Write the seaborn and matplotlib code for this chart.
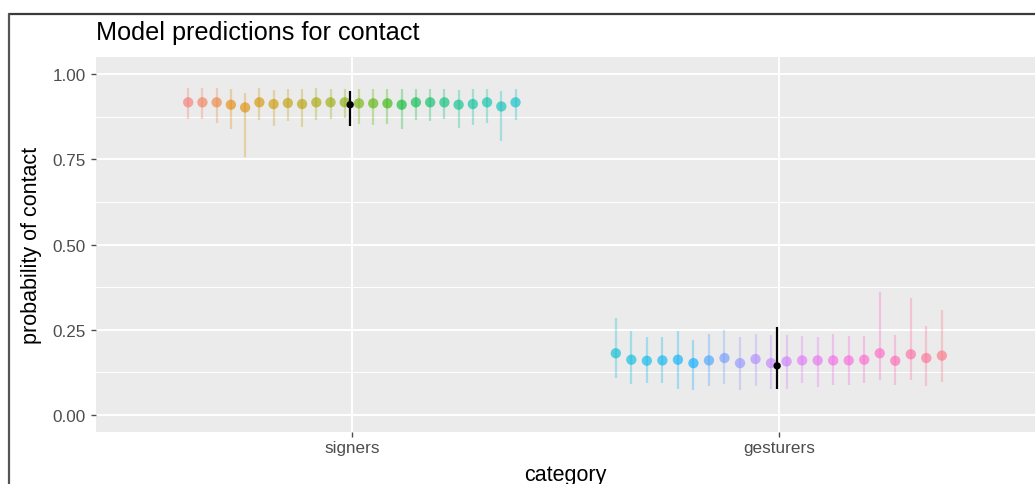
import numpy as np
import pandas as pd
import matplotlib
matplotlib.use("Agg")
import matplotlib.pyplot as plt
from matplotlib.lines import Line2D
from matplotlib.ticker import MultipleLocator
import seaborn as sns

# per-participant model predictions (estimate, lower, upper)
categories = ["signers", "gesturers"]

signers_est = [0.917, 0.917, 0.917, 0.910, 0.902, 0.917, 0.912, 0.915, 0.912, 0.917,
               0.917, 0.917, 0.914, 0.914, 0.914, 0.910, 0.917, 0.917, 0.917, 0.910,
               0.912, 0.917, 0.905, 0.917]
signers_lo = [0.869, 0.869, 0.856, 0.840, 0.758, 0.865, 0.848, 0.862, 0.844, 0.864,
              0.869, 0.872, 0.853, 0.850, 0.853, 0.840, 0.865, 0.862, 0.869, 0.842,
              0.850, 0.855, 0.804, 0.865]
signers_hi = [0.958, 0.958, 0.958, 0.956, 0.943, 0.958, 0.954, 0.956, 0.956, 0.958,
              0.956, 0.956, 0.956, 0.956, 0.956, 0.956, 0.956, 0.956, 0.956, 0.954,
              0.956, 0.956, 0.951, 0.956]

gesturers_est = [0.181, 0.162, 0.159, 0.160, 0.162, 0.152, 0.160, 0.167, 0.152, 0.164,
                 0.152, 0.157, 0.160, 0.160, 0.160, 0.160, 0.162, 0.181, 0.159, 0.178,
                 0.167, 0.174]
gesturers_lo = [0.108, 0.091, 0.093, 0.095, 0.075, 0.072, 0.085, 0.091, 0.074, 0.085,
                0.075, 0.075, 0.095, 0.081, 0.088, 0.088, 0.095, 0.103, 0.088, 0.103,
                0.085, 0.098]
gesturers_hi = [0.284, 0.245, 0.230, 0.230, 0.245, 0.221, 0.238, 0.250, 0.228, 0.238,
                0.235, 0.235, 0.233, 0.230, 0.238, 0.233, 0.233, 0.360, 0.235, 0.343,
                0.260, 0.307]

# population-level estimates
overall_est = [0.910, 0.144]
overall_lo = [0.848, 0.076]
overall_hi = [0.950, 0.257]


def hcl(h, c=100, l=65):
    # ggplot-style polar Luv colour -> sRGB
    xn, yn, zn = 95.047, 100.0, 108.883
    un = 4 * xn / (xn + 15 * yn + 3 * zn)
    vn = 9 * yn / (xn + 15 * yn + 3 * zn)
    u = c * np.cos(np.radians(h))
    v = c * np.sin(np.radians(h))
    y = yn * ((l + 16) / 116) ** 3
    up = u / (13 * l) + un
    vp = v / (13 * l) + vn
    x = y * 9 * up / (4 * vp)
    z = y * (12 - 3 * up - 20 * vp) / (4 * vp)
    m = np.array([[3.2404542, -1.5371385, -0.4985314],
                  [-0.9692660, 1.8760108, 0.0415560],
                  [0.0556434, -0.2040259, 1.0572252]])
    rgb = m @ (np.array([x, y, z]) / 100)
    rgb = np.where(rgb <= 0.0031308, 12.92 * rgb, 1.055 * np.clip(rgb, 0, None) ** (1 / 2.4) - 0.055)
    return tuple(np.clip(rgb, 0, 1))


rows = []
for ci, (cat, est, lo, hi) in enumerate([("signers", signers_est, signers_lo, signers_hi),
                                          ("gesturers", gesturers_est, gesturers_lo, gesturers_hi)]):
    n = len(est)
    for j in range(n):
        rows.append({"category": cat, "participant": f"{cat[0].upper()}{j + 1}",
                     "x": ci + (j - (n - 1) / 2) * 0.8 / n,
                     "est": est[j], "lo": lo[j], "hi": hi[j]})
df = pd.DataFrame(rows)

n_all = len(df)
hues = np.linspace(15, 375, n_all + 1)[:-1]
palette = {p: hcl(h) for p, h in zip(df["participant"], hues)}

sns.set_theme(style="darkgrid", rc={
    "axes.facecolor": "#EBEBEB",
    "grid.color": "white",
    "axes.edgecolor": "#EBEBEB",
    "xtick.color": "#4D4D4D",
    "ytick.color": "#4D4D4D",
    "xtick.bottom": True,
    "ytick.left": True,
    "text.color": "black",
    "axes.labelcolor": "black",
})
plt.rcParams["font.family"] = ["Liberation Sans", "DejaVu Sans"]

fig = plt.figure(figsize=(10.35, 4.85), dpi=100)
ax = fig.add_axes([95.7 / 1035, 52 / 485, 1 - 95.7 / 1035, 375 / 485])

for _, r in df.iterrows():
    ax.vlines(r["x"], r["lo"], r["hi"], color=palette[r["participant"]], alpha=0.3, lw=1.6, zorder=2)

sns.scatterplot(data=df, x="x", y="est", hue="participant", palette=palette,
                s=55, alpha=0.62, edgecolor="none", legend=False, ax=ax, zorder=3)

ov = pd.DataFrame({"x": [0, 1], "est": overall_est, "lo": overall_lo, "hi": overall_hi})
ax.vlines(ov["x"] - 0.004, ov["lo"], ov["hi"], color="black", lw=1.6, zorder=4)
sns.scatterplot(data=ov, x=ov["x"] - 0.004, y="est", color="black", s=28,
                edgecolor="none", ax=ax, zorder=5)

ax.set_xlim(-0.6, 1.6)
ax.set_ylim(-0.05, 1.05)
ax.set_xticks([0, 1])
ax.set_xticklabels(categories)
ax.yaxis.set_major_locator(MultipleLocator(0.25))
ax.yaxis.set_minor_locator(MultipleLocator(0.125))
ax.set_yticklabels([f"{t:.2f}" for t in ax.get_yticks()])
ax.set_ylim(-0.05, 1.05)
ax.grid(True, which="major", color="white", lw=1.4)
ax.grid(True, which="minor", axis="y", color="white", lw=0.7)
ax.tick_params(axis="both", which="major", labelsize=12.3, length=3.5, width=1, pad=3.5)
ax.tick_params(axis="x", which="major", pad=2.5)
ax.tick_params(axis="y", which="minor", length=0)
ax.set_xlabel("category", fontsize=15.5)
ax.set_ylabel("probability of contact", fontsize=15.5)
ax.xaxis.set_label_coords(0.5, -(476 - 433) / 375)
ax.xaxis.label.set_va("center")
ax.yaxis.set_label_coords(-(95.7 - 32) / 939.3, 0.5)
ax.yaxis.label.set_va("center")
for s in ax.spines.values():
    s.set_visible(False)

fig.text(96 / 1035, 1 - 40 / 485, "Model predictions for contact", fontsize=18.2, va="baseline")

# screenshot frame
fig.add_artist(Line2D([8.5 / 1035, 1], [1 - 14.5 / 485] * 2, color="#3A3A3A", lw=1.6))
fig.add_artist(Line2D([8.5 / 1035] * 2, [0, 1 - 14.5 / 485], color="#555555", lw=1.6))

fig.savefig("out.png", dpi=100)
